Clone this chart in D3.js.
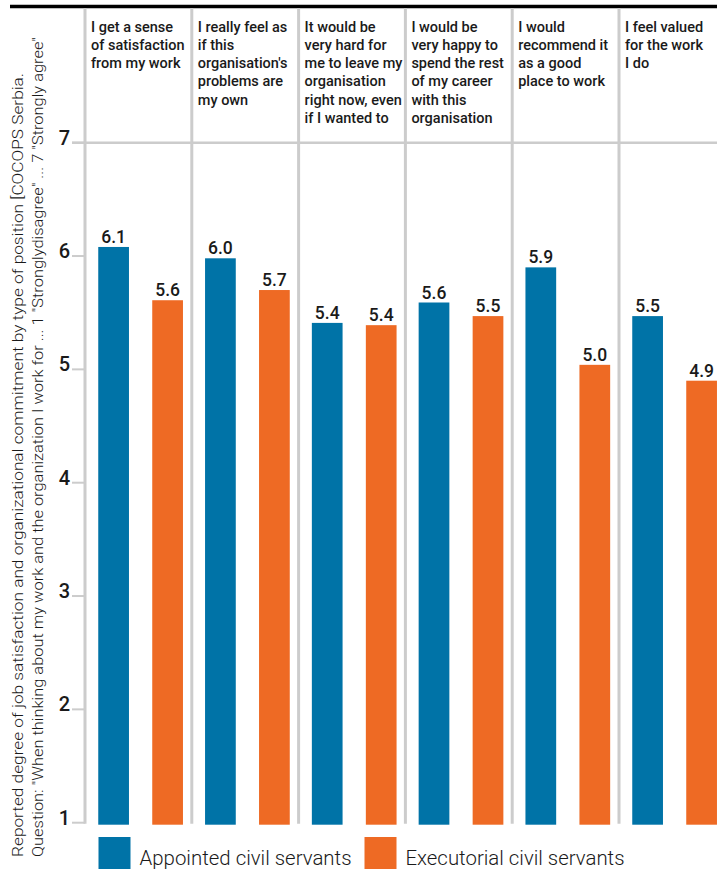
<!DOCTYPE html>
<html>
<head>
<meta charset="utf-8">
<script src="https://cdn.jsdelivr.net/npm/d3@7"></script>
<style>
  body { margin: 0; background: #fff; }
  svg text { font-family: Roboto, "Noto Sans", sans-serif; fill: #1a1a1a; }
</style>
</head>
<body>
<div id="chart"></div>
<script>
// statements (header text, one entry per line)
var categories = [
    ["I get a sense", "of satisfaction", "from my work"],
    ["I really feel as", "if this", "organisation's", "problems are", "my own"],
    ["It would be", "very hard for", "me to leave my", "organisation", "right now, even", "if I wanted to"],
    ["I would be", "very happy to", "spend the rest", "of my career", "with this", "organisation"],
    ["I would", "recommend it", "as a good", "place to work"],
    ["I feel valued", "for the work", "I do"]
];

var seriesNames = ["Appointed civil servants", "Executorial civil servants"];
var appointed = [6.08, 5.98, 5.41, 5.59, 5.90, 5.47];
var executorial = [5.61, 5.70, 5.39, 5.47, 5.04, 4.90];
var yTicks = [1, 2, 3, 4, 5, 6, 7];

var yTitle = [
    "Reported degree of job satisfaction and organizational commitment by type of position [COCOPS Serbia.",
    "Question: \"When thinking about my work and the organization I work for ... 1 \"Stronglydisagree\" ... 7 \"Strongly agree\""
];

function init() {
    const w = 717;
    const h = 871;
    var colors = ["#0073a7", "#ee6a24"];
    var grey = "#cccccc";

    var svg = d3.select("#chart")
        .append("svg")
        .attr("width", w)
        .attr("height", h);

    // scales
    var x0 = d3.scaleBand()
        .domain(d3.range(categories.length))
        .range([85, 85 + 106.8 * categories.length]);

    var x1 = d3.scaleBand()
        .domain(seriesNames)
        .range([0, x0.bandwidth()])
        .paddingInner(0.431)
        .paddingOuter(0.2045)
        .align(0.6);

    var y = d3.scaleLinear()
        .domain([1, 7])
        .range([822.7, 142.7]);

    var color = d3.scaleOrdinal().domain(seriesNames).range(colors);

    // top black rule
    svg.append("line")
        .attr("x1", 10).attr("x2", w)
        .attr("y1", 6.5).attr("y2", 6.5)
        .attr("stroke", "#000")
        .attr("stroke-width", 3.5);

    // gridline at the top value
    svg.append("line")
        .attr("x1", 72).attr("x2", w)
        .attr("y1", y(7)).attr("y2", y(7))
        .attr("stroke", grey)
        .attr("stroke-width", 2.5);

    // column separators (first one is the y axis line)
    svg.selectAll(".sep")
        .data(x0.domain())
        .enter()
        .append("line")
        .attr("class", "sep")
        .attr("x1", (d) => x0(d)).attr("x2", (d) => x0(d))
        .attr("y1", 8).attr("y2", y(1) + 1)
        .attr("stroke", grey)
        .attr("stroke-width", 3);

    // y ticks
    var ticks = svg.selectAll(".tick")
        .data(yTicks)
        .enter()
        .append("g")
        .attr("class", "tick")
        .attr("transform", (d) => "translate(0," + y(d) + ")");

    ticks.append("line")
        .attr("x1", 72).attr("x2", 85)
        .attr("stroke", grey)
        .attr("stroke-width", 2);

    ticks.append("text")
        .attr("x", 70)
        .attr("y", 2)
        .attr("text-anchor", "end")
        .style("font-size", "20px")
        .style("font-weight", 500)
        .text((d) => d);

    // header text
    svg.selectAll(".head")
        .data(categories)
        .enter()
        .append("text")
        .attr("class", "head")
        .style("font-size", "14.5px")
        .style("font-weight", 500)
        .each(function (d, i) {
            d3.select(this).selectAll("tspan")
                .data(d)
                .enter()
                .append("tspan")
                .attr("x", x0(i) + 6)
                .attr("y", (t, j) => 31.5 + j * 18.3)
                .text((t) => t);
        });

    // bars
    var groups = svg.selectAll(".cat")
        .data(categories.map((c, i) => i))
        .enter()
        .append("g")
        .attr("class", "cat")
        .attr("transform", (i) => "translate(" + x0(i) + ",0)");

    var rows = groups.selectAll(".bar")
        .data((i) => [
            { key: seriesNames[0], value: appointed[i] },
            { key: seriesNames[1], value: executorial[i] }
        ])
        .enter()
        .append("g")
        .attr("class", "bar");

    rows.append("rect")
        .attr("x", (d) => x1(d.key))
        .attr("y", (d) => y(d.value))
        .attr("width", x1.bandwidth())
        .attr("height", (d) => y(1) - y(d.value) + 2)
        .attr("fill", (d) => color(d.key));

    rows.append("text")
        .attr("x", (d) => x1(d.key) + x1.bandwidth() / 2)
        .attr("y", (d) => y(d.value) - 4)
        .attr("text-anchor", "middle")
        .style("font-size", "17.5px")
        .style("font-weight", 500)
        .text((d) => d3.format(".1f")(d.value));

    // rotated axis title
    svg.selectAll(".ytitle")
        .data(yTitle)
        .enter()
        .append("text")
        .attr("class", "ytitle")
        .attr("transform", (d, i) => "translate(" + (23 + i * 20) + ",857) rotate(-90)")
        .attr("textLength", (d, i) => i === 0 ? 784 : 820)
        .attr("lengthAdjust", "spacingAndGlyphs")
        .style("font-size", "15.5px")
        .style("font-weight", 300)
        .text((d) => d);

    // legend
    var legendX = [98.5, 364.5];
    var legend = svg.selectAll(".legend")
        .data(seriesNames)
        .enter()
        .append("g")
        .attr("class", "legend")
        .attr("transform", (d, i) => "translate(" + legendX[i] + ",837)");

    legend.append("rect")
        .attr("width", 32)
        .attr("height", 32)
        .attr("fill", (d) => color(d));

    legend.append("text")
        .attr("x", 41)
        .attr("y", 28)
        .attr("textLength", (d, i) => i === 0 ? 212 : 219)
        .attr("lengthAdjust", "spacingAndGlyphs")
        .style("font-size", "21px")
        .style("font-weight", 300)
        .text((d) => d);
}
window.onload = init;
</script>
</body>
</html>
